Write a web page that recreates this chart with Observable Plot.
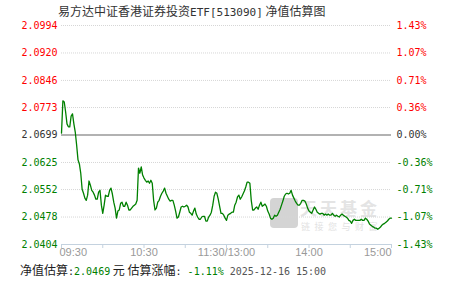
<!DOCTYPE html>
<html><head><meta charset="utf-8">
<script src="https://cdn.jsdelivr.net/npm/d3@7"></script>
<script src="https://cdn.jsdelivr.net/npm/@observablehq/plot@0.6"></script>
<style>
body{margin:0;background:#fff;}
#wrap{position:relative;width:451px;height:281px;overflow:hidden;font-family:"Noto Sans CJK SC",sans-serif;}
#chart{position:absolute;left:0;top:0;z-index:2;}
.mono{font-family:"DejaVu Sans Mono",monospace;}
#title{position:absolute;left:58px;top:3px;font-size:12px;line-height:16px;color:#333;white-space:nowrap;z-index:3;}
#title .mono{font-size:11px;}
#foot{position:absolute;left:20px;top:262px;font-size:12px;line-height:16px;color:#222;white-space:nowrap;z-index:3;}
#foot .mono{font-size:10px;}
.g{color:#008000;}
.d{color:#555;}
#logo{position:absolute;left:270px;top:198px;width:28px;height:30px;border-radius:4px;background:#d4d4d4;z-index:1;}
#wm1{position:absolute;left:300px;top:199px;font-size:17px;line-height:17px;letter-spacing:3px;font-weight:bold;color:#e4e4e4;z-index:1;white-space:nowrap;}
#wm2{position:absolute;left:301px;top:222px;font-size:9px;line-height:9px;letter-spacing:4.5px;color:#e2e2e2;z-index:1;white-space:nowrap;}
</style></head><body>
<div id="wrap">
<div id="logo"></div><div id="wm1">天天基金</div><div id="wm2">链接您与财富</div>
<div id="chart"></div>
<div id="title">易方达中证香港证券投资<span class="mono">ETF[513090]</span> 净值估算图</div>
<div id="foot">净值估算<span class="mono">:</span><span class="mono g">2.0469</span> 元 估算涨幅<span class="mono">: </span><span class="mono g">-1.11%</span><span class="mono d"> 2025-12-16 15:00</span></div>
</div>
<script>
const prevClose = 2.0699;
const navTicks = [2.0994, 2.0920, 2.0846, 2.0773, 2.0699, 2.0625, 2.0552, 2.0478, 2.0404];
const pctTicks = ["1.43%", "1.07%", "0.71%", "0.36%", "0.00%", "-0.36%", "-0.71%", "-1.07%", "-1.43%"];
const minuteTicks = [0, 30, 60, 90, 120, 150, 180, 210, 240];
const labelMinutes = [0, 60, 120, 180, 240];
const timeLabels = ["09:30", "10:30", "11:30/13:00", "14:00", "15:00"];
// estimated NAV, one value per trading minute from 09:30
const nav = [
2.0704,2.0791,2.0788,2.0761,2.0729,2.0721,2.0721,2.0750,2.0756,2.0729,
2.0707,2.0672,2.0632,2.0621,2.0596,2.0553,2.0542,2.0529,2.0523,2.0537,
2.0575,2.0564,2.0550,2.0545,2.0537,2.0526,2.0526,2.0545,2.0550,2.0510,
2.0488,2.0510,2.0537,2.0534,2.0534,2.0550,2.0556,2.0540,2.0518,2.0502,
2.0475,2.0494,2.0497,2.0515,2.0518,2.0507,2.0507,2.0518,2.0510,2.0497,
2.0497,2.0502,2.0507,2.0510,2.0513,2.0523,2.0610,2.0596,2.0613,2.0591,
2.0583,2.0577,2.0572,2.0575,2.0569,2.0577,2.0569,2.0523,2.0497,2.0502,
2.0518,2.0523,2.0534,2.0542,2.0548,2.0556,2.0542,2.0534,2.0526,2.0521,
2.0523,2.0523,2.0510,2.0494,2.0475,2.0478,2.0491,2.0505,2.0507,2.0505,
2.0507,2.0510,2.0505,2.0491,2.0488,2.0483,2.0494,2.0502,2.0486,2.0478,
2.0472,2.0472,2.0478,2.0480,2.0480,2.0467,2.0467,2.0478,2.0483,2.0491,
2.0510,2.0534,2.0545,2.0542,2.0526,2.0507,2.0488,2.0488,2.0483,2.0475,
2.0469,2.0483,2.0486,2.0488,2.0491,2.0491,2.0510,2.0518,2.0532,2.0537,
2.0526,2.0532,2.0540,2.0548,2.0559,2.0572,2.0572,2.0569,2.0523,2.0497,
2.0497,2.0502,2.0505,2.0499,2.0510,2.0518,2.0507,2.0510,2.0513,2.0507,
2.0494,2.0486,2.0475,2.0472,2.0475,2.0483,2.0480,2.0483,2.0491,2.0499,
2.0510,2.0521,2.0534,2.0540,2.0542,2.0540,2.0542,2.0550,2.0537,2.0529,
2.0521,2.0515,2.0510,2.0510,2.0515,2.0523,2.0523,2.0521,2.0513,2.0502,
2.0494,2.0491,2.0488,2.0497,2.0505,2.0499,2.0491,2.0488,2.0486,2.0488,
2.0488,2.0483,2.0486,2.0483,2.0486,2.0483,2.0483,2.0488,2.0483,2.0480,
2.0483,2.0480,2.0478,2.0483,2.0486,2.0483,2.0480,2.0478,2.0475,2.0469,
2.0467,2.0461,2.0469,2.0472,2.0469,2.0469,2.0469,2.0469,2.0472,2.0469,
2.0469,2.0475,2.0472,2.0467,2.0459,2.0456,2.0453,2.0451,2.0448,2.0448,
2.0445,2.0448,2.0451,2.0456,2.0459,2.0461,2.0464,2.0467,2.0472,2.0475,
2.0475
];

const ticks = navTicks.map((v, i) => ({v, pct: pctTicks[i], i}));
const colorOf = d => d.v > prevClose + 1e-9 ? "#ff0000" : (d.v < prevClose - 1e-9 ? "#008000" : "#333333");
const gridTicks = navTicks.filter(v => v !== prevClose && v !== navTicks[navTicks.length - 1]);
const labels = labelMinutes.map((m, i) => ({m, t: timeLabels[i]}));
const monoFont = "DejaVu Sans Mono";

const chart = Plot.plot({
  width: 451, height: 281,
  marginTop: 25, marginBottom: 37, marginLeft: 61, marginRight: 60,
  style: {background: "transparent", overflow: "visible"},
  x: {domain: [0, 240], axis: null, label: null},
  y: {domain: [navTicks[navTicks.length - 1], navTicks[0]], axis: null, label: null},
  color: {type: "identity"},
  marks: [
    Plot.ruleY(gridTicks, {y: d => d, stroke: "#d6d6d6", strokeDasharray: "1,1"}),
    Plot.ruleY([prevClose], {stroke: "#999", strokeWidth: 1.6}),
    Plot.ruleY([navTicks[navTicks.length - 1]], {stroke: "#c4d2df"}),
    Plot.axisX(minuteTicks, {tickSize: 4, tickFormat: () => "", label: null, stroke: "#c4d2df"}),
    Plot.line(nav, {x: (d, i) => i, y: d => d, stroke: "#008000", strokeWidth: 1.3}),
    Plot.text(ticks, {y: "v", text: d => d.v.toFixed(4), frameAnchor: "left", textAnchor: "end", dx: -4,
      fill: colorOf, fontFamily: monoFont, fontSize: 10}),
    Plot.text(ticks, {y: "v", text: "pct", frameAnchor: "right", textAnchor: "start", dx: 5,
      fill: colorOf, fontFamily: monoFont, fontSize: 10}),
    Plot.text(labels.slice(0, 1), {x: "m", text: "t", frameAnchor: "bottom", textAnchor: "start", dx: -2, dy: 11,
      fill: "#999", fontFamily: "Liberation Sans", fontSize: 11}),
    Plot.text(labels.slice(1, -1), {x: "m", text: "t", frameAnchor: "bottom", textAnchor: "middle", dy: 11,
      fill: "#999", fontFamily: "Liberation Sans", fontSize: 11}),
    Plot.text(labels.slice(-1), {x: "m", text: "t", frameAnchor: "bottom", textAnchor: "end", dy: 11,
      fill: "#999", fontFamily: "Liberation Sans", fontSize: 11})
  ]
});
document.getElementById("chart").appendChild(chart);
</script>
</body></html>
